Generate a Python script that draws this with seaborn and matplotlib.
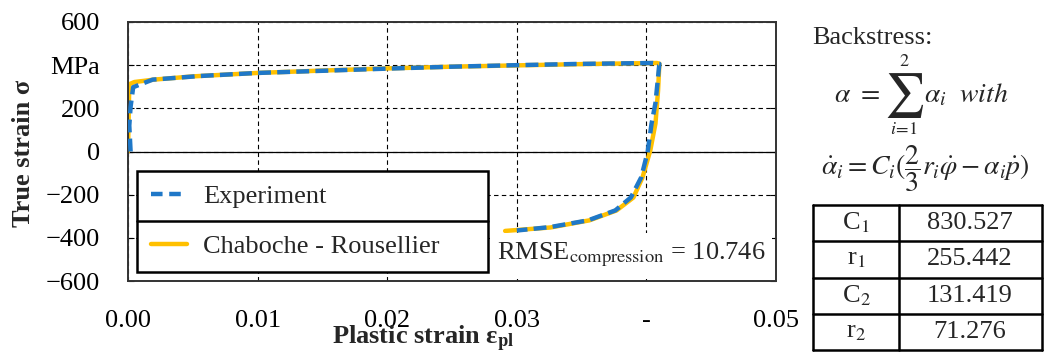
import matplotlib.pyplot as plt
import seaborn as sns
from matplotlib.lines import Line2D
from matplotlib.patches import Rectangle

sns.set_style("white")
plt.rcParams["font.family"] = ["Liberation Serif", "DejaVu Serif"]
plt.rcParams["mathtext.fontset"] = "stix"

# --- data ---
exp_strain = [0.0002, 0.0001, 0.0002, 0.0004, 0.0019, 0.0056, 0.010, 0.015, 0.020,
              0.025, 0.030, 0.035, 0.0405, 0.0410, 0.0409, 0.0407, 0.0404, 0.0401,
              0.0396, 0.0388, 0.0376, 0.0355, 0.0326, 0.0300]
exp_stress = [0, 120, 207, 298, 333, 350, 364, 374, 384, 393, 400, 406, 410, 406,
              345, 225, 130, 0, -120, -213, -273, -319, -350, -366]

model_strain = [0.0, 0.0001, 0.0005, 0.002, 0.005, 0.010, 0.015, 0.020, 0.025, 0.030,
                0.035, 0.0408, 0.0410, 0.0409, 0.0407, 0.0403, 0.0397, 0.0390,
                0.0377, 0.0356, 0.0326, 0.0291]
model_stress = [0, 312, 322, 333, 348, 364, 375, 385, 393, 399, 405, 410, 407,
                282, 130, 5, -120, -213, -273, -319, -352, -368]

y_ticks = [600, 400, 200, 0, -200, -400, -600]
y_tick_labels = ["600", "MPa", "200", "0", "\u2212200", "\u2212400", "\u2212600"]
x_ticks = [0.0, 0.01, 0.02, 0.03, 0.04, 0.05]
x_tick_labels = ["0.00", "0.01", "0.02", "0.03", "-", "0.05"]

param_names = ["C$_1$", "r$_1$", "C$_2$", "r$_2$"]
param_values = ["830.527", "255.442", "131.419", "71.276"]

BLUE = "#1F78C8"
ORANGE = "#FFC000"
FS = 19

W, H = 1056, 356
fig = plt.figure(figsize=(W / 100, H / 100), dpi=100)
ax = fig.add_axes([128 / W, 75 / H, 648 / W, 259 / H])

ax.grid(True, color="black", linestyle=(0, (4, 3)), linewidth=0.8)
ax.axhline(0, color="black", linewidth=0.9, zorder=1.5)

sns.lineplot(x=model_strain, y=model_stress, sort=False, estimator=None,
             color=ORANGE, linewidth=3.2, ax=ax, zorder=2)
sns.lineplot(x=exp_strain, y=exp_stress, sort=False, estimator=None,
             color=BLUE, linewidth=3.2, ax=ax, zorder=3)
ax.lines[-1].set_dashes([2.9, 1.4])
if ax.get_legend() is not None:
    ax.get_legend().remove()

ax.set_xlim(0, 0.05)
ax.set_ylim(-600, 600)
ax.set_xticks(x_ticks)
ax.set_xticklabels(x_tick_labels, fontsize=FS)
ax.set_yticks(y_ticks)
ax.set_yticklabels(y_tick_labels, fontsize=FS)
ax.tick_params(axis="both", direction="in", length=4, width=0.8, colors="black")
ax.tick_params(axis="y", pad=20, right=True, left=True)
ax.tick_params(axis="x", pad=21)
for sp in ax.spines.values():
    sp.set_visible(True)
    sp.set_color("#333333")
    sp.set_linewidth(1.4)

ax.set_ylabel("True strain \u03c3", fontsize=FS, fontweight="bold")
ax.set_xlabel("Plastic strain \u03b5$_{\\mathbf{pl}}$", fontsize=FS, fontweight="bold")
ax.xaxis.set_label_coords((423 - 128) / 648, (281 - 339) / 259)
ax.xaxis.label.set_va("center")
ax.yaxis.set_label_coords((24 - 128) / 648, (281 - 153) / 259)
ax.yaxis.label.set_va("center")

# legend with a divider between the rows
handles = [
    Line2D([], [], color=BLUE, linewidth=3.2, dashes=[2.6, 1.5]),
    Line2D([], [], color=ORANGE, linewidth=3.2),
]
leg = ax.legend(handles, ["Experiment", "Chaboche - Rousellier"], loc="lower left",
                bbox_to_anchor=(0.014, 0.035, 0.542, 0.394), mode="expand",
                borderaxespad=0, fontsize=FS, handlelength=1.4,
                handletextpad=0.6, labelspacing=1.02, borderpad=0.51,
                fancybox=False, framealpha=1, edgecolor="black")
leg.get_frame().set_linewidth(1.8)
ax.add_line(Line2D([0.014, 0.556], [0.232, 0.232], transform=ax.transAxes,
                   color="black", linewidth=1.8, zorder=6))

# RMSE annotation on white background
ax.add_patch(Rectangle((0.559, 0.008), 0.435, 0.177, transform=ax.transAxes,
                       facecolor="white", edgecolor="none", zorder=4))
ax.text((766 - 128) / 648, (281 - 255) / 259, "RMSE$_{\\mathrm{compression}}$ = 10.746",
        transform=ax.transAxes, ha="right", va="center", fontsize=FS, zorder=5)

# right side: backstress formula and parameter table
fig.text(812 / W, 1 - 38 / H, "Backstress:", fontsize=FS, ha="left", va="center")
fig.text(880 / W, 1 - 95 / H, r"$\alpha\ =$", fontsize=FS + 1, ha="right", va="center")
fig.text(904 / W, 1 - 96 / H, r"$\sum$", fontsize=32, ha="center", va="center")
fig.text(904 / W, 1 - 61 / H, r"$2$", fontsize=13, ha="center", va="center")
fig.text(904 / W, 1 - 130 / H, r"$i\!=\!1$", fontsize=13, ha="center", va="center")
fig.text(924 / W, 1 - 95 / H, r"$\alpha_i\ \ with$", fontsize=FS + 1, ha="left",
         va="center")
fig.text(925 / W, 1 - 169 / H,
         r"$\dot{\alpha}_i = C_i(\dfrac{2}{3}r_i\dot{\varphi} - \alpha_i\dot{p})$",
         fontsize=FS + 1, ha="center", va="center")

tab = fig.add_axes([813 / W, 6 / H, 229 / W, 145 / H])
tab.set_xlim(0, 1)
tab.set_ylim(len(param_names), 0)
tab.axis("off")
for i in range(len(param_names) + 1):
    tab.plot([0, 1], [i, i], color="black", linewidth=1.8, clip_on=False)
for xv in [0, 86 / 229, 1]:
    tab.plot([xv, xv], [0, len(param_names)], color="black", linewidth=1.8,
             clip_on=False)
for i, (name, val) in enumerate(zip(param_names, param_values)):
    tab.text(43 / 229, i + 0.5, name, ha="center", va="center", fontsize=FS)
    tab.text(157 / 229, i + 0.5, val, ha="center", va="center", fontsize=FS)

fig.savefig("out.png", dpi=100)
